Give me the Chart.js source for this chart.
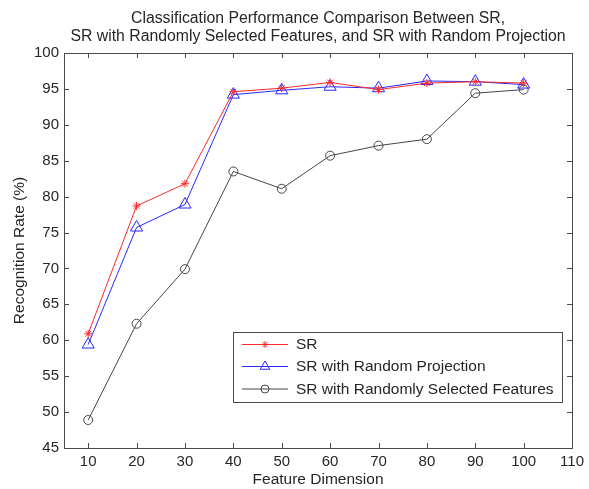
<!DOCTYPE html>
<html>
<head>
<meta charset="utf-8">
<script src="https://cdn.jsdelivr.net/npm/chart.js@4/dist/chart.umd.min.js"></script>
<style>
  html, body { margin: 0; padding: 0; background: #ffffff; }
  #wrap { width: 589px; height: 489px; }
</style>
</head>
<body>
<div id="wrap"><canvas id="c" width="589" height="489"></canvas></div>
<script>
// ---- data ----
const featureDims = [10, 20, 30, 40, 50, 60, 70, 80, 90, 100];
const srValues = [60.9, 78.7, 81.8, 94.6, 95.1, 95.9, 94.9, 95.8, 96.0, 95.8];
const srRandomProjection = [59.4, 75.7, 78.9, 94.2, 94.8, 95.3, 95.1, 96.1, 96.0, 95.6];
const srRandomFeatures = [48.9, 62.3, 69.9, 83.5, 81.1, 85.7, 87.1, 88.0, 94.4, 94.9];
const xTickValues = [10, 20, 30, 40, 50, 60, 70, 80, 90, 100, 110];
const yTickValues = [45, 50, 55, 60, 65, 70, 75, 80, 85, 90, 95, 100];
const seriesLabels = ['SR', 'SR with Random Projection', 'SR with Randomly Selected Features'];
const titleLines = ['Classification Performance Comparison Between SR,', 'SR with Randomly Selected Features, and SR with Random Projection'];
const xTitle = 'Feature Dimension';
const yTitle = 'Recognition Rate (%)';

const FONT = "'Liberation Sans', Arial, Helvetica, sans-serif";
const TEXT = '#262626';
const AXIS = '#4a4a4a';

function pts(vals) { return featureDims.map((x, i) => ({ x: x, y: vals[i] })); }

const styles = [
  { color: 'rgb(255,40,40)', pointStyle: 'star', radius: 4, legendRadius: 3.5 },
  { color: 'rgb(40,40,255)', pointStyle: 'triangle', radius: 7, legendRadius: 5.5 },
  { color: 'rgb(70,70,70)', pointStyle: 'circle', radius: 4.5, legendRadius: 4 }
];

const datasets = [srValues, srRandomProjection, srRandomFeatures].map((vals, i) => ({
  label: seriesLabels[i],
  data: pts(vals),
  borderColor: styles[i].color,
  backgroundColor: 'rgba(0,0,0,0)',
  pointBorderColor: styles[i].color,
  pointBackgroundColor: 'rgba(0,0,0,0)',
  pointStyle: styles[i].pointStyle,
  pointRadius: styles[i].radius,
  pointHoverRadius: styles[i].radius,
  pointBorderWidth: 1,
  borderWidth: 1,
  tension: 0,
  fill: false,
  order: i + 1
}));

const frameTicks = {
  id: 'frameTicks',
  beforeDatasetsDraw(chart) {
    const { ctx, chartArea: a, scales } = chart;
    ctx.save();
    ctx.strokeStyle = AXIS;
    ctx.lineWidth = 1;
    const L = 5;
    ctx.beginPath();
    scales.x.ticks.forEach(t => {
      const px = Math.round(scales.x.getPixelForValue(t.value)) + 0.5;
      ctx.moveTo(px, a.bottom); ctx.lineTo(px, a.bottom - L);
      ctx.moveTo(px, a.top); ctx.lineTo(px, a.top + L);
    });
    scales.y.ticks.forEach(t => {
      const py = Math.round(scales.y.getPixelForValue(t.value)) + 0.5;
      ctx.moveTo(a.left, py); ctx.lineTo(a.left + L, py);
      ctx.moveTo(a.right, py); ctx.lineTo(a.right - L, py);
    });
    ctx.stroke();
    ctx.strokeRect(Math.round(a.left) + 0.5, Math.round(a.top) + 0.5,
                   Math.round(a.right - a.left), Math.round(a.bottom - a.top));
    ctx.restore();
  }
};

const boxLegend = {
  id: 'boxLegend',
  afterDraw(chart) {
    const { ctx } = chart;
    const bx = 233.5, by = 332.5, bw = 329, bh = 70;
    ctx.save();
    ctx.fillStyle = '#ffffff';
    ctx.fillRect(bx, by, bw, bh);
    ctx.strokeStyle = AXIS;
    ctx.lineWidth = 1;
    ctx.strokeRect(bx, by, bw, bh);
    const rows = [344.5, 366.5, 389];
    chart.data.datasets.forEach((ds, i) => {
      const y = rows[i];
      ctx.strokeStyle = ds.borderColor;
      ctx.fillStyle = 'rgba(0,0,0,0)';
      ctx.lineWidth = 1;
      ctx.beginPath();
      ctx.moveTo(242, y); ctx.lineTo(288, y);
      ctx.stroke();
      Chart.helpers.drawPoint(ctx, {
        pointStyle: ds.pointStyle,
        radius: styles[i].legendRadius,
        borderWidth: 1
      }, 265, y);
      ctx.fillStyle = TEXT;
      ctx.font = '15.5px ' + FONT;
      ctx.textBaseline = 'middle';
      ctx.textAlign = 'left';
      ctx.fillText(ds.label, 296, y + 0.5);
    });
    ctx.restore();
  }
};

new Chart(document.getElementById('c'), {
  type: 'line',
  data: { datasets: datasets },
  plugins: [frameTicks, boxLegend],
  options: {
    responsive: false,
    animation: false,
    devicePixelRatio: 1,
    layout: { padding: { left: 0, right: 15, top: 0, bottom: 0 } },
    plugins: {
      legend: { display: false },
      tooltip: { enabled: false },
      title: {
        display: true,
        fullSize: false,
        text: titleLines,
        color: TEXT,
        font: { family: FONT, size: 15.8, weight: 'normal', lineHeight: 1.17 },
        padding: { top: 9, bottom: 7 }
      }
    },
    scales: {
      x: {
        type: 'linear',
        min: 5,
        max: 110,
        afterBuildTicks: s => { s.ticks = xTickValues.map(v => ({ value: v })); },
        afterFit: s => { s.height = 41; },
        grid: { display: false, drawTicks: false },
        border: { display: false },
        ticks: { color: TEXT, font: { family: FONT, size: 15 }, padding: 5, maxRotation: 0, autoSkip: false },
        title: { display: true, text: xTitle, color: TEXT, font: { family: FONT, size: 15.5 }, padding: { top: 0, bottom: 0 } }
      },
      y: {
        type: 'linear',
        min: 45,
        max: 100,
        afterBuildTicks: s => { s.ticks = yTickValues.map(v => ({ value: v })); },
        afterFit: s => { s.width = 64; },
        grid: { display: false, drawTicks: false },
        border: { display: false },
        ticks: { color: TEXT, font: { family: FONT, size: 15 }, padding: 5, autoSkip: false },
        title: { display: true, text: yTitle, color: TEXT, font: { family: FONT, size: 15.5 }, padding: { top: 10, bottom: 0 } }
      }
    }
  }
});
</script>
</body>
</html>
